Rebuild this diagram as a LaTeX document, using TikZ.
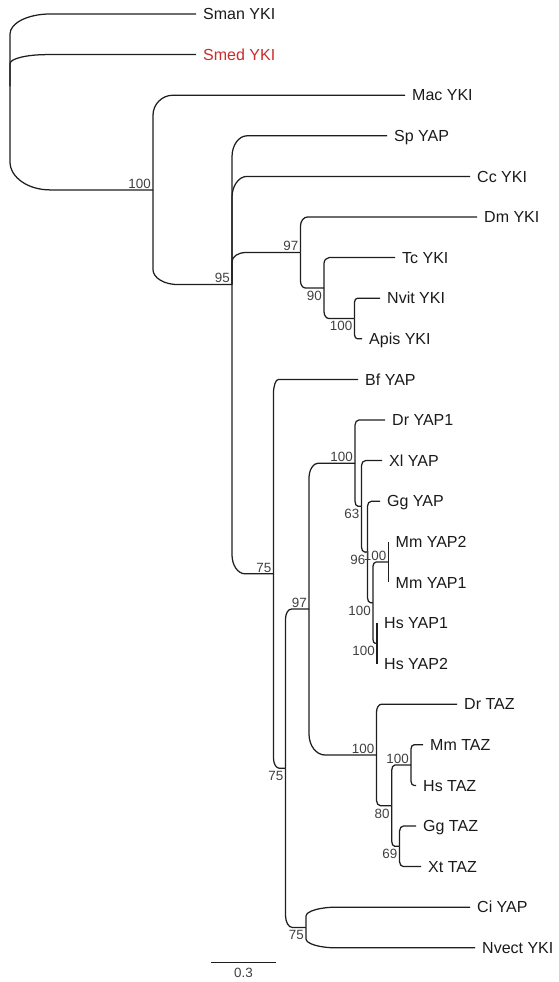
\documentclass[tikz,border=0pt]{standalone}
\usepackage{fontspec}
\setmainfont{Liberation Sans}
\usetikzlibrary{calc}
\definecolor{linecol}{HTML}{1E1E1E}
\definecolor{labcol}{HTML}{1A1A1A}
\definecolor{bscol}{HTML}{404040}
\definecolor{smedred}{HTML}{CC2B2B}
% parent, child, horizontal curve extent, vertical curve extent
\newcommand{\tbranch}[4]{%
  \pgfmathsetmacro\tbRy{#4}%
  \pgfmathsetmacro\tbRyc{0.45*#4}%
  \pgfmathsetmacro\tbRxc{0.45*#3}%
  \draw[branch] (#1) -- ($(#1|-#2)!\tbRy pt!(#1)$)
    .. controls ($(#1|-#2)!\tbRyc pt!(#1)$) and ($(#1|-#2)+(\tbRxc,0)$)
    .. ($(#1|-#2)+(#3,0)$) -- (#2);}
\begin{document}
\begin{tikzpicture}[x=1pt,y=-1pt,
  branch/.style={draw=linecol, line width=1.25pt},
  leaflab/.style={anchor=base west, inner sep=0pt, xshift=7pt, yshift=-5.7pt, text=labcol, font=\fontsize{16}{18}\selectfont},
  bsbase/.style={anchor=base east, inner sep=0pt, xshift=-2pt, text=bscol, font=\fontsize{13.4}{15}\selectfont},
  bsup/.style={bsbase, yshift=1.7pt},
  bsdown/.style={bsbase, yshift=-12.3pt}]
\useasboundingbox (0,0) rectangle (558,982);
% leaf tips
\coordinate (Sman) at (196,14);
\coordinate (Smed) at (196,54.6);
\coordinate (Mac) at (405,95.2);
\coordinate (Sp) at (387,135.8);
\coordinate (Cc) at (470,176.4);
\coordinate (Dm) at (477,217);
\coordinate (Tc) at (395,257.6);
\coordinate (Nvit) at (380,298.2);
\coordinate (Apis) at (362,338.8);
\coordinate (Bf) at (358,379.4);
\coordinate (DrYa) at (385,420);
\coordinate (Xl) at (382,460.6);
\coordinate (GgY) at (380,501.2);
\coordinate (MmYb) at (388.5,541.8);
\coordinate (MmYa) at (388.5,582.4);
\coordinate (HsYa) at (377,623);
\coordinate (HsYb) at (377,663.6);
\coordinate (DrT) at (457,704.2);
\coordinate (MmT) at (423,744.8);
\coordinate (HsT) at (416,785.4);
\coordinate (GgT) at (416,826);
\coordinate (XtT) at (421,866.6);
\coordinate (Ci) at (470,907.2);
\coordinate (Nvect) at (475,947.8);
% internal nodes
\coordinate (R0) at (10,86.2);
\coordinate (A) at (153,189.9);
\coordinate (B) at (232,284.6);
\coordinate (D) at (300.5,252.5);
\coordinate (E) at (324,288);
\coordinate (F) at (354.5,318.5);
\coordinate (C) at (273.5,573.8);
\coordinate (I) at (285.5,768.3);
\coordinate (H) at (309,609);
\coordinate (J) at (306,927.5);
\coordinate (K) at (355,463.2);
\coordinate (M) at (361.5,506.3);
\coordinate (N) at (367.5,552);
\coordinate (O) at (373,602.7);
\coordinate (P) at (388.5,562.1);
\coordinate (Q) at (377,643.3);
\coordinate (L) at (376.5,755);
\coordinate (Rt) at (391.7,805.7);
\coordinate (S) at (411,765.1);
\coordinate (T) at (399.5,846.3);
% branches
\tbranch{R0}{Sman}{40}{20}
\tbranch{R0}{Smed}{37}{9}
\tbranch{R0}{A}{40}{28}
\tbranch{A}{Mac}{20}{20}
\tbranch{A}{B}{25}{15}
\tbranch{B}{Sp}{15}{21}
\tbranch{B}{Cc}{15}{21}
\tbranch{B}{D}{14}{9}
\tbranch{B}{C}{13}{19}
\tbranch{D}{Dm}{7}{9}
\tbranch{D}{E}{5}{7}
\tbranch{E}{Tc}{5}{6}
\tbranch{E}{F}{5}{7}
\tbranch{F}{Nvit}{3}{4}
\tbranch{F}{Apis}{3}{4}
\tbranch{C}{Bf}{5}{14}
\tbranch{C}{I}{6}{10}
\tbranch{I}{H}{6}{10}
\tbranch{I}{J}{7}{12}
\tbranch{H}{K}{9}{15}
\tbranch{H}{L}{16}{21}
\tbranch{J}{Ci}{30}{9}
\tbranch{J}{Nvect}{30}{9}
\tbranch{K}{DrYa}{4}{5}
\tbranch{K}{M}{3}{5}
\tbranch{M}{Xl}{4}{5}
\tbranch{M}{N}{3}{5}
\tbranch{N}{GgY}{4}{5}
\tbranch{N}{O}{3}{5}
\tbranch{O}{P}{3}{4}
\tbranch{O}{Q}{2}{4}
\tbranch{P}{MmYb}{0}{0}
\tbranch{P}{MmYa}{0}{0}
\tbranch{Q}{HsYa}{0}{0}
\tbranch{Q}{HsYb}{0}{0}
\tbranch{L}{DrT}{5}{8}
\tbranch{L}{Rt}{4}{5}
\tbranch{Rt}{S}{3}{5}
\tbranch{Rt}{T}{3}{5}
\tbranch{S}{MmT}{3}{4}
\tbranch{S}{HsT}{3}{4}
\tbranch{T}{GgT}{4}{5}
\tbranch{T}{XtT}{4}{5}
% leaf labels
\node[leaflab] (lSman) at (Sman) {Sman YKI};
\node[leaflab, text=smedred] (lSmed) at (Smed) {Smed YKI};
\node[leaflab] (lMac) at (Mac) {Mac YKI};
\node[leaflab] (lSp) at (Sp) {Sp YAP};
\node[leaflab] (lCc) at (Cc) {Cc YKI};
\node[leaflab] (lDm) at (Dm) {Dm YKI};
\node[leaflab] (lTc) at (Tc) {Tc YKI};
\node[leaflab] (lNvit) at (Nvit) {Nvit YKI};
\node[leaflab] (lApis) at (Apis) {Apis YKI};
\node[leaflab] (lBf) at (Bf) {Bf YAP};
\node[leaflab] (lDrYa) at (DrYa) {Dr YAP1};
\node[leaflab] (lXl) at (Xl) {Xl YAP};
\node[leaflab] (lGgY) at (GgY) {Gg YAP};
\node[leaflab] (lMmYb) at (MmYb) {Mm YAP2};
\node[leaflab] (lMmYa) at (MmYa) {Mm YAP1};
\node[leaflab] (lHsYa) at (HsYa) {Hs YAP1};
\node[leaflab] (lHsYb) at (HsYb) {Hs YAP2};
\node[leaflab] (lDrT) at (DrT) {Dr TAZ};
\node[leaflab] (lMmT) at (MmT) {Mm TAZ};
\node[leaflab] (lHsT) at (HsT) {Hs TAZ};
\node[leaflab] (lGgT) at (GgT) {Gg TAZ};
\node[leaflab] (lXtT) at (XtT) {Xt TAZ};
\node[leaflab] (lCi) at (Ci) {Ci YAP};
\node[leaflab] (lNvect) at (Nvect) {Nvect YKI};
% support values
\node[bsup] (bA) at (A) {100};
\node[bsup] (bB) at (B) {95};
\node[bsup] (bD) at (D) {97};
\node[bsdown] (bE) at (E) {90};
\node[bsdown] (bF) at (F) {100};
\node[bsup] (bC) at (C) {75};
\node[bsdown] (bI) at (I) {75};
\node[bsup] (bH) at (H) {97};
\node[bsdown] (bJ) at (J) {75};
\node[bsup] (bK) at (K) {100};
\node[bsdown] (bM) at (M) {63};
\node[bsdown] (bN) at (N) {96};
\node[bsdown] (bO) at (O) {100};
\node[bsup] (bP) at (P) {100};
\node[bsdown] (bQ) at (Q) {100};
\node[bsup] (bL) at (L) {100};
\node[bsdown] (bR) at (Rt) {80};
\node[bsup] (bS) at (S) {100};
\node[bsdown] (bT) at (T) {69};
% scale bar
\coordinate (sb1) at (211,962.5);
\coordinate (sb2) at (276,962.5);
\draw[branch] (sb1) -- (sb2);
\node[anchor=base, inner sep=0pt, text=bscol, font=\fontsize{13.4}{15}\selectfont] (sblab) at ($(sb1)!0.5!(sb2)+(0,15.3)$) {0.3};
\end{tikzpicture}
\end{document}
